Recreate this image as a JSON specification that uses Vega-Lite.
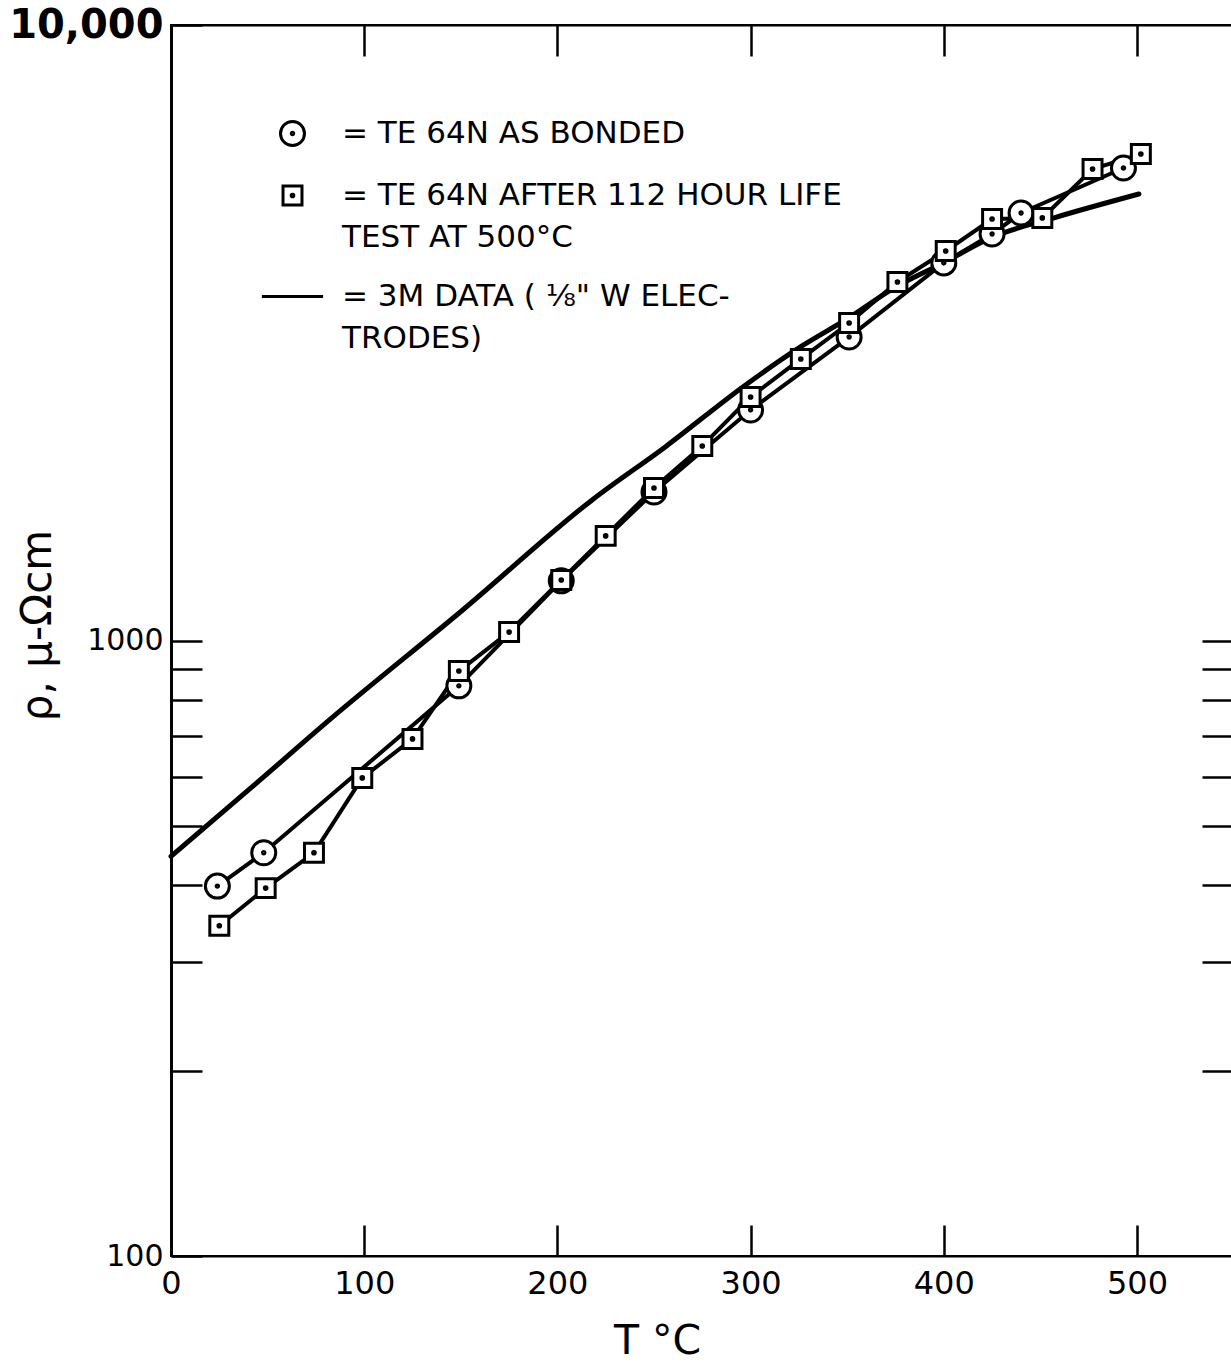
{
  "$schema": "https://vega.github.io/schema/vega-lite/v6.json",
  "width": 1062,
  "height": 1231,
  "autosize": {"type": "none"},
  "padding": {"left": 171, "top": 25, "right": 0, "bottom": 106},
  "background": "white",
  "config": {
    "view": {"stroke": "black", "strokeWidth": 2},
    "font": "DejaVu Sans",
    "axis": {"grid": false, "domainColor": "black", "tickColor": "black", "labelColor": "black", "titleColor": "black"},
    "style": {"guide-label": {"lineHeight": 42}}
  },
  "data": {
    "values": [
      {"series": "3M", "T": 0, "rho": 446},
      {"series": "3M", "T": 46, "rho": 593},
      {"series": "3M", "T": 82, "rho": 743},
      {"series": "3M", "T": 151, "rho": 1121},
      {"series": "3M", "T": 218, "rho": 1692},
      {"series": "3M", "T": 256, "rho": 2065},
      {"series": "3M", "T": 296, "rho": 2582},
      {"series": "3M", "T": 326, "rho": 3002},
      {"series": "3M", "T": 350, "rho": 3330},
      {"series": "3M", "T": 375, "rho": 3750},
      {"series": "3M", "T": 400, "rho": 4110},
      {"series": "3M", "T": 425, "rho": 4520},
      {"series": "3M", "T": 458, "rho": 4871},
      {"series": "3M", "T": 501, "rho": 5314},
      {"series": "bonded", "T": 24, "rho": 399},
      {"series": "bonded", "T": 48, "rho": 452},
      {"series": "bonded", "T": 149, "rho": 844},
      {"series": "bonded", "T": 202, "rho": 1250},
      {"series": "bonded", "T": 250, "rho": 1743},
      {"series": "bonded", "T": 300, "rho": 2369},
      {"series": "bonded", "T": 351, "rho": 3112},
      {"series": "bonded", "T": 400, "rho": 4106},
      {"series": "bonded", "T": 425, "rho": 4576},
      {"series": "bonded", "T": 440, "rho": 4950},
      {"series": "bonded", "T": 493, "rho": 5857},
      {"series": "life", "T": 25, "rho": 344},
      {"series": "life", "T": 49, "rho": 396},
      {"series": "life", "T": 74, "rho": 452},
      {"series": "life", "T": 99, "rho": 598},
      {"series": "life", "T": 125, "rho": 692},
      {"series": "life", "T": 149, "rho": 892},
      {"series": "life", "T": 175, "rho": 1032},
      {"series": "life", "T": 202, "rho": 1254},
      {"series": "life", "T": 225, "rho": 1479},
      {"series": "life", "T": 250, "rho": 1769},
      {"series": "life", "T": 275, "rho": 2070},
      {"series": "life", "T": 300, "rho": 2487},
      {"series": "life", "T": 326, "rho": 2867},
      {"series": "life", "T": 351, "rho": 3280},
      {"series": "life", "T": 376, "rho": 3824},
      {"series": "life", "T": 401, "rho": 4294},
      {"series": "life", "T": 425, "rho": 4839},
      {"series": "life", "T": 451, "rho": 4859},
      {"series": "life", "T": 477, "rho": 5834},
      {"series": "life", "T": 502, "rho": 6171}
    ]
  },
  "layer": [
    {
      "transform": [{"filter": "datum.series === '3M'"}],
      "mark": {"type": "line", "interpolate": "monotone", "color": "black", "strokeWidth": 5, "strokeCap": "round"},
      "encoding": {
        "x": {
          "field": "T", "type": "quantitative",
          "scale": {"domain": [0, 549.7], "nice": false, "zero": false},
          "axis": {
            "orient": "bottom", "values": [0, 100, 200, 300, 400, 500],
            "tickSize": -31, "tickWidth": 2.5, "domainWidth": 2,
            "labelFontSize": 32, "labelPadding": 43, "labelFont": "DejaVu Sans", "labelFlush": false,
            "title": "T °C", "titleFontSize": 41, "titleFontWeight": "normal", "titleFont": "DejaVu Sans",
            "titleX": 486, "titleY": 97, "titleBaseline": "alphabetic", "titleAlign": "center"
          }
        },
        "y": {
          "field": "rho", "type": "quantitative",
          "scale": {"type": "log", "domain": [100, 10000], "nice": false},
          "axis": {
            "orient": "left", "values": [100, 200, 300, 400, 500, 600, 700, 800, 900, 1000, 10000],
            "tickSize": -31, "tickWidth": 2.5, "domainWidth": 3,
            "labelExpr": "datum.value == 10000 ? '10,000' : datum.value == 1000 ? '1000' : datum.value == 100 ? '100' : ''",
            "labelFontSize": {"condition": {"test": "datum.value == 10000", "value": 40}, "value": 30},
            "labelFontWeight": {"condition": {"test": "datum.value == 10000", "value": "bold"}, "value": "normal"},
            "labelPadding": 39, "labelFont": "DejaVu Sans", "labelFlush": false,
            "title": "ρ, μ-Ωcm", "titleFontSize": 42, "titleFontWeight": "normal", "titleFont": "DejaVu Sans",
            "titleAngle": 270, "titleX": -121, "titleY": 600, "titleBaseline": "alphabetic", "titleAlign": "center"
          }
        }
      }
    },
    {
      "transform": [{"filter": "datum.series !== '3M'"}],
      "mark": {"type": "line", "color": "black", "strokeWidth": 4},
      "encoding": {
        "x": {
          "field": "T", "type": "quantitative",
          "axis": {"orient": "top", "values": [100, 200, 300, 400, 500], "tickSize": -31, "tickWidth": 2.5, "domainWidth": 2, "labels": false, "title": null}
        },
        "y": {
          "field": "rho", "type": "quantitative",
          "axis": {"orient": "right", "values": [200, 300, 400, 500, 600, 700, 800, 900, 1000], "tickSize": -31, "tickWidth": 2.5, "domainWidth": 2, "labels": false, "title": null}
        },
        "detail": {"field": "series", "type": "nominal"}
      }
    },
    {
      "transform": [{"filter": "datum.series !== '3M'"}],
      "mark": {"type": "point", "filled": false, "fill": "white", "stroke": "black", "strokeWidth": 3, "opacity": 1, "size": 576},
      "encoding": {
        "x": {"field": "T", "type": "quantitative", "axis": null},
        "y": {"field": "rho", "type": "quantitative", "axis": null},
        "shape": {
          "field": "series", "type": "nominal",
          "scale": {
            "domain": ["bonded", "life", "3M"],
            "range": [
              "M-1,0A1,1,0,1,1,1,0A1,1,0,1,1,-1,0ZM-0.1,0A0.1,0.1,0,1,1,0.1,0A0.1,0.1,0,1,1,-0.1,0Z",
              "M-0.79,-0.79H0.79V0.79H-0.79ZM-0.11,0A0.11,0.11,0,1,1,0.11,0A0.11,0.11,0,1,1,-0.11,0Z",
              "M-2.55,0H2.55"
            ]
          },
          "legend": {
            "orient": "none", "legendX": 106, "legendY": 93, "title": null,
            "labelFontSize": 31, "labelLimit": 900, "labelOffset": 34, "rowPadding": 27, "symbolSize": 576, "symbolStrokeWidth": 3,
            "labelExpr": "datum.label == 'bonded' ? '= TE 64N AS BONDED' : datum.label == 'life' ? ['= TE 64N AFTER 112 HOUR LIFE', '\u2007\u2002TEST AT 500°C'] : ['= 3M DATA ( ⅛\" W ELEC-', '\u2007\u2002TRODES)']"
          }
        }
      }
    }
  ],
  "resolve": {"axis": {"x": "independent", "y": "independent"}}
}
